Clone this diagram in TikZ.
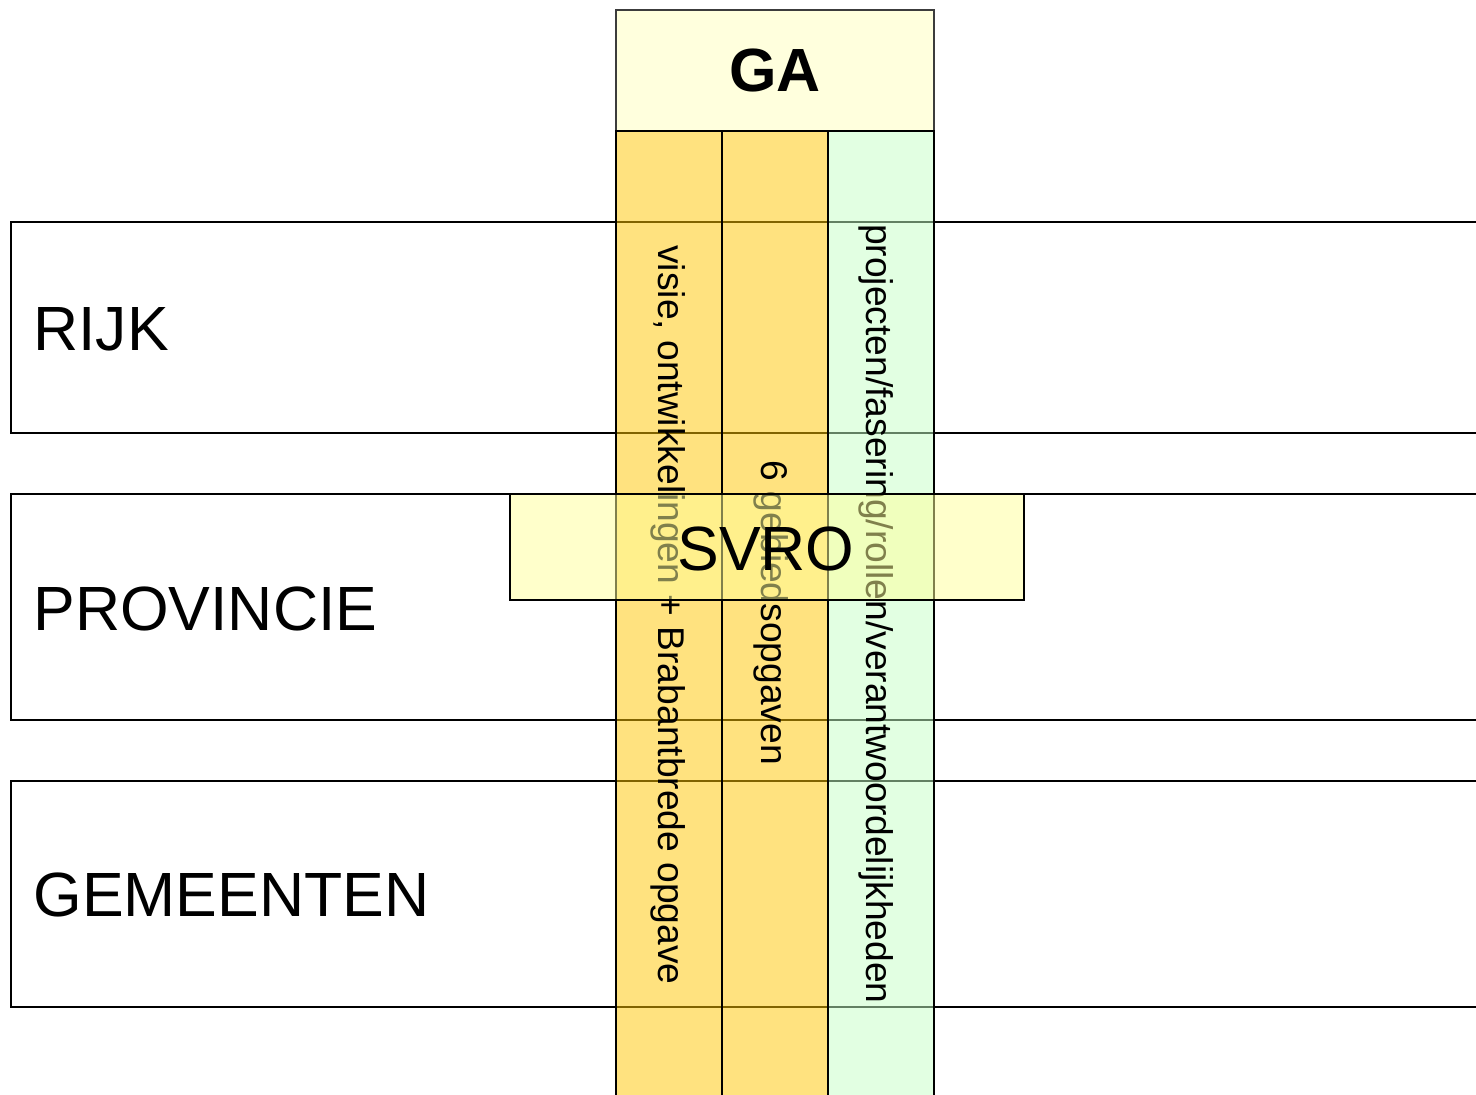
\documentclass[tikz,border=0pt]{standalone}
\usepackage{fontspec}
\setmainfont{Liberation Sans}
\definecolor{colorange}{RGB}{255,199,0}
\definecolor{colgreen}{RGB}{199,255,199}
\definecolor{svrofill}{RGB}{255,255,153}
\definecolor{gafill}{RGB}{255,255,221}
\definecolor{gaborder}{RGB}{60,60,60}
\tikzset{
  rowbox/.style={draw=black, line width=1pt, anchor=north west, inner sep=0pt, minimum width=740pt},
  colbox/.style={draw=black, line width=1pt, anchor=north west, inner sep=0pt, minimum width=53pt, minimum height=490pt, fill opacity=0.5, draw opacity=1},
  rowlabel/.style={anchor=west, inner sep=0pt, font=\fontsize{31.25pt}{36pt}\selectfont},
  coltext/.style={rotate=-90, inner sep=0pt, font=\fontsize{18.6pt}{22pt}\selectfont},
}
\begin{document}
\begin{tikzpicture}[x=0.5pt, y=-0.5pt]
\useasboundingbox (0,0) rectangle (1476,1094);
\clip (0,0) rectangle (1476,1094);
\fill[white] (0,0) rectangle (1476,1094);
% rows
\node[rowbox, minimum height=105.5pt] (rijk) at (10,221) {};
\node[rowbox, minimum height=113pt] (prov) at (10,493) {};
\node[rowbox, minimum height=113pt] (gem) at (10,780) {};
\node[rowlabel] (rijkt) at (33,329) {RIJK};
\node[rowlabel] (provt) at (33,609) {PROVINCIE};
\node[rowlabel] (gemt) at (33,895) {GEMEENTEN};
% GA
\node[draw=gaborder, line width=1pt, fill=gafill, anchor=north west, inner sep=0pt, minimum width=159pt, minimum height=60.5pt] (ga) at (615,9) {};
\node[font=\fontsize{30.5pt}{36pt}\selectfont\bfseries, inner sep=0pt] (gat) at (ga.center) {GA};
% columns
\node[colbox, fill=colorange] (c1) at (615,130) {};
\node[colbox, fill=colorange] (c2) at (721,130) {};
\node[colbox, fill=colgreen] (c3) at (827,130) {};
\node[coltext] (t1) at (668,615) {visie, ontwikkelingen + Brabantbrede opgave};
\node[coltext] (t2) at (771,613) {6 gebiedsopgaven};
\node[coltext] (t3) at (876,614) {projecten/fasering/rollen/verantwoordelijkheden};
% SVRO
\node[draw=black, line width=1pt, fill=svrofill, fill opacity=0.5, draw opacity=1, anchor=north west, inner sep=0pt, minimum width=257pt, minimum height=53pt] (svro) at (509,493) {};
\node[font=\fontsize{31.25pt}{36pt}\selectfont, inner sep=0pt] (svrot) at (766,549) {SVRO};
\end{tikzpicture}
\end{document}
